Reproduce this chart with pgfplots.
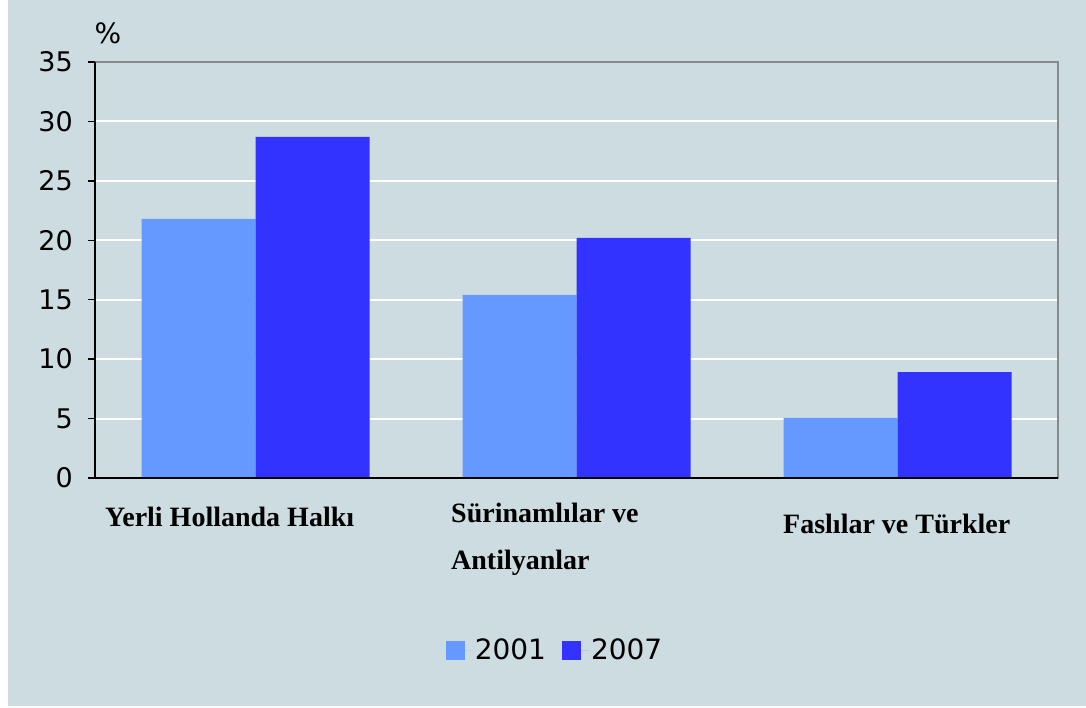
\documentclass[border=0pt]{standalone}
\usepackage{fontspec}
\setmainfont{DejaVu Sans}
\newfontfamily\labfont{Liberation Serif}
\usepackage{pgfplots}
\pgfplotsset{compat=1.18}
\definecolor{bg}{HTML}{CDDCE1}
\definecolor{c1}{HTML}{6699FF}
\definecolor{c2}{HTML}{3333FF}
\definecolor{fr}{HTML}{858A8C}
\begin{document}
\begin{tikzpicture}[x=1pt,y=1pt]
\fill[white] (0,0) rectangle (1086,708);
\fill[bg] (8,2) rectangle (1086,708);
\begin{axis}[
  at={(95pt,230pt)}, anchor=south west,
  width=963pt, height=416pt, scale only axis,
  xmin=-0.5, xmax=2.5, ymin=0, ymax=35,
  ytick={0,5,...,35}, xtick=\empty,
  ybar=0pt, bar width=114pt,
  ymajorgrids, grid style={white, line width=2pt},
  axis line style={draw=none},
  tick align=outside, ytick pos=left,
  major tick length=7pt,
  tick style={black, line width=1.5pt},
  /pgf/number format/assume math mode=true,
  yticklabel style={font=\fontsize{27}{30}\selectfont, inner sep=0pt, xshift=-15pt},
  legend style={at={(0.4777,-0.4135)}, anchor=center, draw=none, fill=none,
    legend columns=2, font=\fontsize{28}{30}\selectfont,
    /tikz/every even column/.append style={column sep=14pt}},
  legend image code/.code={\path[#1,draw=none] (0pt,-9.5pt) rectangle (19pt,9.5pt); \path (0pt,0pt) -- (27pt,0pt);},
]
\addplot[fill=c1, draw=none] coordinates {(0,21.8) (1,15.4) (2,5.05)};
\addplot[fill=c2, draw=none] coordinates {(0,28.7) (1,20.2) (2,8.9)};
\legend{2001,2007}
\end{axis}
\draw[fr, line width=2.5pt] (95,646) -- (1058,646) -- (1058,229);
\draw[black, line width=2pt] (95,646) -- (95,230) -- (1058,230);
\node[font=\fontsize{28}{30}\selectfont] at (108,674.5) {\%};
\begin{scope}[every node/.style={anchor=base west, inner sep=0pt, font=\labfont\bfseries\fontsize{28}{30}\selectfont}]
\node at (105,181) {Yerli Hollanda Halkı};
\node at (451,185) {Sürinamlılar ve};
\node at (451,138) {Antilyanlar};
\node at (783,174) {Faslılar ve Türkler};
\end{scope}
\end{tikzpicture}
\end{document}
